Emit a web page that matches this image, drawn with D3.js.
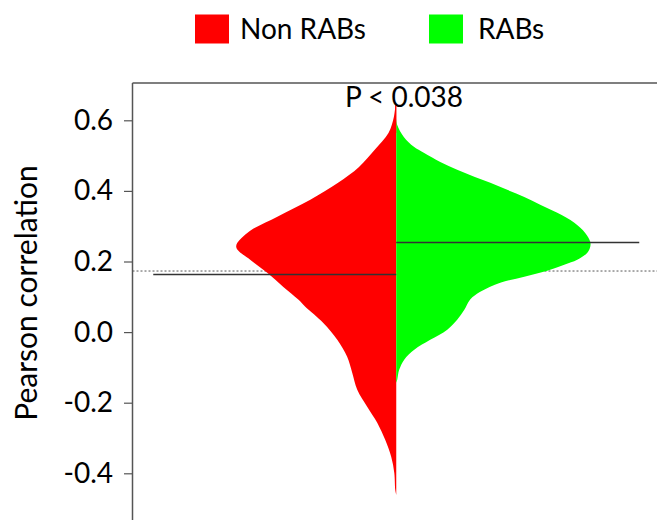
<!DOCTYPE html>
<html>
<head>
<meta charset="utf-8">
<script src="https://cdn.jsdelivr.net/npm/d3@7"></script>
<style>
  html, body { margin: 0; padding: 0; background: #fff; }
  svg { display: block; font-family: Lato, "Open Sans", sans-serif; }
</style>
</head>
<body>
<svg id="chart" width="657" height="520"></svg>
<script>
// ---- data ----
const seriesNames = ["Non RABs", "RABs"];
const seriesColors = ["#ff0000", "#00ff00"];
// kernel density profiles: correlation value and relative density
const nonRabsValues = [0.644, 0.610, 0.564, 0.516, 0.468, 0.423, 0.375, 0.327, 0.281, 0.242, 0.205, 0.168, 0.128, 0.092, 0.072, 0.026, -0.022, -0.070, -0.115, -0.163, -0.212, -0.257, -0.305, -0.353, -0.399, -0.447, -0.461];
const nonRabsDensity = [0.004, 0.012, 0.040, 0.112, 0.192, 0.300, 0.443, 0.613, 0.768, 0.825, 0.753, 0.665, 0.582, 0.505, 0.469, 0.376, 0.304, 0.253, 0.227, 0.201, 0.149, 0.098, 0.057, 0.026, 0.010, 0.005, 0.0];
const rabsValues = [0.607, 0.587, 0.553, 0.525, 0.508, 0.482, 0.460, 0.440, 0.423, 0.403, 0.383, 0.361, 0.338, 0.310, 0.281, 0.256, 0.242, 0.225, 0.205, 0.191, 0.174, 0.157, 0.140, 0.114, 0.092, 0.063, 0.035, 0.007, -0.022, -0.050, -0.078, -0.107, -0.135, -0.144];
const rabsDensity = [0.0, 0.005, 0.039, 0.091, 0.142, 0.227, 0.314, 0.402, 0.485, 0.572, 0.660, 0.742, 0.830, 0.918, 0.974, 1.0, 1.0, 0.985, 0.933, 0.866, 0.778, 0.660, 0.536, 0.433, 0.381, 0.351, 0.314, 0.263, 0.175, 0.093, 0.041, 0.015, 0.005, 0.0];
const medians = [0.163, 0.254];
const referenceLine = 0.173;
const pLabel = "P < 0.038";
const yTicks = [-0.4, -0.2, 0.0, 0.2, 0.4, 0.6];
const yTitle = "Pearson correlation";

// ---- layout ----
const svg = d3.select("#chart");
const plotLeft = 132.5, plotRight = 660, plotTop = 83, plotBottom = 520;
const fontSize = 28;

const y = d3.scaleLinear().domain([-0.4, 0.6]).range([473.3, 120.3]);
const x = d3.scaleBand().domain(["all"]).range([plotLeft, plotRight]);
const cx = x("all") + x.bandwidth() / 2;
const w = d3.scaleLinear().domain([0, 1]).range([0, 194]);
const medianHalf = 243;

// reference dotted line (behind violins)
svg.append("line")
  .attr("x1", plotLeft).attr("x2", plotRight)
  .attr("y1", y(referenceLine)).attr("y2", y(referenceLine))
  .attr("stroke", "#555").attr("stroke-width", 1).attr("stroke-dasharray", "2,2");

// violins
const leftData = nonRabsValues.map((v, i) => ({v, d: nonRabsDensity[i]}));
const rightData = rabsValues.map((v, i) => ({v, d: rabsDensity[i]}));

const leftArea = d3.area()
  .y(d => y(d.v))
  .x0(cx)
  .x1(d => cx - w(d.d))
  .curve(d3.curveCatmullRom.alpha(0.5));
const rightArea = d3.area()
  .y(d => y(d.v))
  .x0(cx)
  .x1(d => cx + w(d.d))
  .curve(d3.curveCatmullRom.alpha(0.5));

svg.append("path").attr("d", leftArea(leftData)).attr("fill", seriesColors[0]);
svg.append("path").attr("d", rightArea(rightData)).attr("fill", seriesColors[1]);
// thin tip line on top of the red half
svg.append("line")
  .attr("x1", cx - 0.5).attr("x2", cx - 0.5)
  .attr("y1", y(nonRabsValues[0])).attr("y2", y(nonRabsValues[2]))
  .attr("stroke", seriesColors[0]).attr("stroke-width", 1);

// median lines
svg.append("line")
  .attr("x1", cx - medianHalf).attr("x2", cx)
  .attr("y1", y(medians[0])).attr("y2", y(medians[0]))
  .attr("stroke", "#333").attr("stroke-width", 1.6);
svg.append("line")
  .attr("x1", cx).attr("x2", cx + medianHalf)
  .attr("y1", y(medians[1])).attr("y2", y(medians[1]))
  .attr("stroke", "#333").attr("stroke-width", 1.6);

// frame: top and left
svg.append("line")
  .attr("x1", plotLeft).attr("x2", plotRight)
  .attr("y1", plotTop).attr("y2", plotTop)
  .attr("stroke", "#555").attr("stroke-width", 1.5);

// y axis
const yAxis = d3.axisLeft(y).tickValues(yTicks).tickSize(8.5).tickPadding(11)
  .tickFormat(d3.format(".1f"));
const gy = svg.append("g").attr("transform", `translate(${plotLeft},0)`).call(yAxis);
gy.select(".domain").remove();
gy.selectAll(".tick line").attr("stroke", "#555").attr("stroke-width", 1.2);
gy.selectAll(".tick text")
  .attr("font-family", "Lato, sans-serif")
  .attr("font-size", fontSize).attr("fill", "#000")
  .text(d => d3.format(".1f")(d).replace("−", "-"));
svg.append("line")
  .attr("x1", plotLeft).attr("x2", plotLeft)
  .attr("y1", plotTop).attr("y2", plotBottom)
  .attr("stroke", "#555").attr("stroke-width", 1.5);

// y title
svg.append("text")
  .attr("transform", `translate(25,293) rotate(-90)`)
  .attr("text-anchor", "middle").attr("dominant-baseline", "central")
  .attr("font-size", 30).attr("fill", "#000")
  .text(yTitle);

// P label
svg.append("text")
  .attr("x", 404).attr("y", 107)
  .attr("text-anchor", "middle")
  .attr("font-size", fontSize).attr("fill", "#000")
  .text(pLabel);

// legend
const legendX = [195, 429];
const legendTextX = [240, 478];
seriesNames.forEach((name, i) => {
  svg.append("rect")
    .attr("x", legendX[i]).attr("y", 14.5)
    .attr("width", 34).attr("height", 29)
    .attr("fill", seriesColors[i]);
  svg.append("text")
    .attr("x", legendTextX[i]).attr("y", 38.5)
    .attr("font-size", fontSize).attr("fill", "#000")
    .text(name);
});
</script>
</body>
</html>
